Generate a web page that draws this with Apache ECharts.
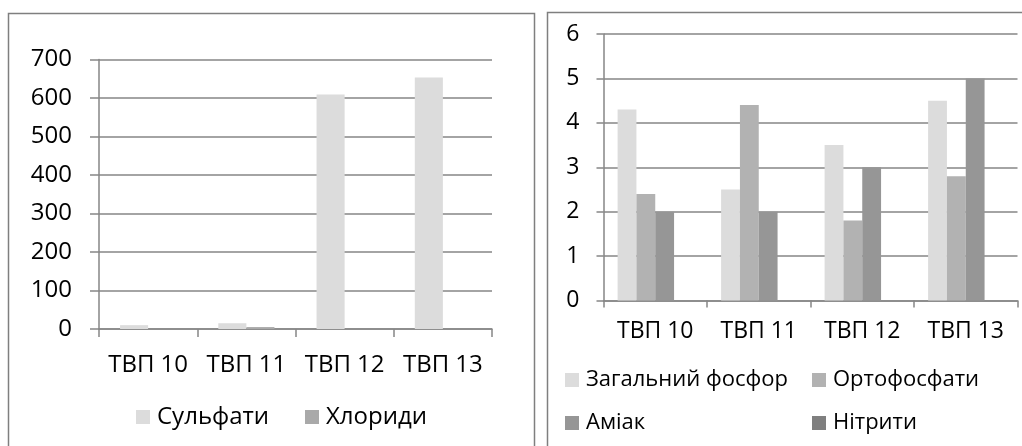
<!DOCTYPE html>
<html>
<head>
<meta charset="utf-8">
<script src="https://cdn.jsdelivr.net/npm/echarts@6/dist/echarts.min.js"></script>
<style>
html,body{margin:0;padding:0;background:#fff;}
#c{width:1022px;height:446px;}
</style>
</head>
<body>
<div id="c"></div>
<script>
// Left chart data
const categoriesL = ['ТВП 10', 'ТВП 11', 'ТВП 12', 'ТВП 13'];
const sulfaty = [10, 15, 609, 653];
const khlorydy = [0, 5, 0, 0];

// Right chart data
const categoriesR = ['ТВП 10', 'ТВП 11', 'ТВП 12', 'ТВП 13'];
const zahalnyiFosfor = [4.3, 2.5, 3.5, 4.5];
const ortofosfaty = [2.4, 4.4, 1.8, 2.8];
const amiak = [2.0, 2.0, 3.0, 5.0];
const nitryty = [0, 0, 0, 0];

const FONT = 'Open Sans';
const AX = '#868686';

function legendItem(name, left, top, size) {
  return {
    data: [name], left: left, top: top, orient: 'horizontal',
    itemWidth: 14, itemHeight: 14, itemGap: 0, padding: 0,
    icon: 'rect', selectedMode: false,
    textStyle: {fontFamily: FONT, fontSize: size, color: '#000', padding: [0, 0, 0, 2]}
  };
}

const chart = echarts.init(document.getElementById('c'), null, {renderer: 'canvas'});
chart.setOption({
  animation: false,
  backgroundColor: '#fff',
  graphic: [
    {type: 'rect', shape: {x: 8.5, y: 13.5, width: 526, height: 440}, style: {fill: 'none', stroke: '#7f7f7f', lineWidth: 1.5}, z: 0},
    {type: 'rect', shape: {x: 547.5, y: 12.5, width: 480, height: 440}, style: {fill: 'none', stroke: '#7f7f7f', lineWidth: 1.5}, z: 0}
  ],
  legend: [
    legendItem('Сульфати', 136, 405, 24),
    legendItem('Хлориди', 305, 405, 24),
    legendItem('Загальний фосфор', 565, 369, 22),
    legendItem('Ортофосфати', 812, 369, 22),
    legendItem('Аміак', 565, 412, 22),
    legendItem('Нітрити', 812, 412, 22)
  ],
  grid: [
    {left: 99, right: 530, top: 59.5, bottom: 117},
    {left: 603.5, right: 4.5, top: 34, bottom: 145.5}
  ],
  xAxis: [
    {type: 'category', gridIndex: 0, data: categoriesL,
     axisLine: {lineStyle: {color: AX, width: 1.5}},
     axisTick: {show: true, length: 8, lineStyle: {color: AX, width: 1.5}},
     axisLabel: {interval: 0, hideOverlap: false, color: '#000', fontFamily: FONT, fontSize: 24, margin: 24}},
    {type: 'category', gridIndex: 1, data: categoriesR,
     axisLine: {lineStyle: {color: AX, width: 1.5}},
     axisTick: {show: true, length: 7, lineStyle: {color: AX, width: 1.5}},
     axisLabel: {interval: 0, hideOverlap: false, color: '#000', fontFamily: FONT, fontSize: 23, margin: 19}}
  ],
  yAxis: [
    {type: 'value', gridIndex: 0, min: 0, max: 700, interval: 100,
     axisLine: {show: true, lineStyle: {color: AX, width: 1.5}},
     axisTick: {show: true, length: 9, lineStyle: {color: AX, width: 1.5}},
     splitLine: {lineStyle: {color: AX, width: 1.5}},
     axisLabel: {color: '#000', fontFamily: FONT, fontSize: 24, margin: 27}},
    {type: 'value', gridIndex: 1, min: 0, max: 6, interval: 1,
     axisLine: {show: true, lineStyle: {color: AX, width: 1.5}},
     axisTick: {show: true, length: 7, lineStyle: {color: AX, width: 1.5}},
     splitLine: {lineStyle: {color: AX, width: 1.5}},
     axisLabel: {color: '#000', fontFamily: FONT, fontSize: 23, margin: 24}}
  ],
  series: [
    {name: 'Сульфати', type: 'bar', xAxisIndex: 0, yAxisIndex: 0, data: sulfaty,
     itemStyle: {color: '#dcdcdc'}, barGap: '0%', barCategoryGap: '42.86%'},
    {name: 'Хлориди', type: 'bar', xAxisIndex: 0, yAxisIndex: 0, data: khlorydy,
     itemStyle: {color: '#a9a9a9'}, barGap: '0%', barCategoryGap: '42.86%'},
    {name: 'Загальний фосфор', type: 'bar', xAxisIndex: 1, yAxisIndex: 1, data: zahalnyiFosfor,
     itemStyle: {color: '#dcdcdc'}, barGap: '0%', barCategoryGap: '27.27%'},
    {name: 'Ортофосфати', type: 'bar', xAxisIndex: 1, yAxisIndex: 1, data: ortofosfaty,
     itemStyle: {color: '#b2b2b2'}, barGap: '0%', barCategoryGap: '27.27%'},
    {name: 'Аміак', type: 'bar', xAxisIndex: 1, yAxisIndex: 1, data: amiak,
     itemStyle: {color: '#969696'}, barGap: '0%', barCategoryGap: '27.27%'},
    {name: 'Нітрити', type: 'bar', xAxisIndex: 1, yAxisIndex: 1, data: nitryty,
     itemStyle: {color: '#7f7f7f'}, barGap: '0%', barCategoryGap: '27.27%'}
  ]
});
</script>
</body>
</html>
